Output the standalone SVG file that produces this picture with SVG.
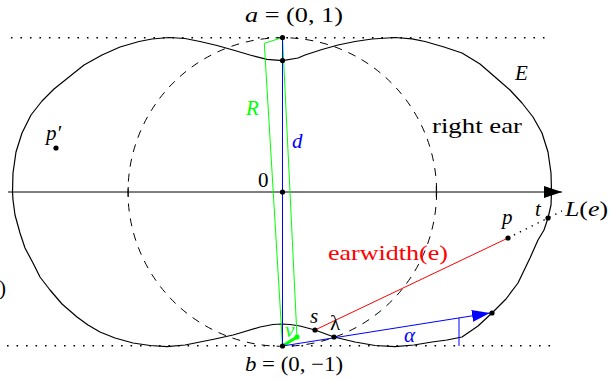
<svg xmlns="http://www.w3.org/2000/svg" width="615" height="381" viewBox="0 0 615 381">
<defs>
<style>
text{font-family:'Liberation Serif','Times New Roman',serif;font-size:21px;fill:#000}
.it{font-style:italic}
.dot{fill:#000}
.dotted{fill:none;stroke:#000;stroke-width:1.6;stroke-dasharray:1.6 7.9}
.curve{fill:none;stroke:#000;stroke-width:1.2;stroke-linejoin:round}
.dashed{fill:none;stroke:#000;stroke-width:1;stroke-dasharray:8 7}
</style>
<marker id="blackArrow" viewBox="0 0 18 12" refX="18" refY="6" markerWidth="18" markerHeight="12" orient="auto" markerUnits="userSpaceOnUse">
<path d="M0,0 L18,6 L0,12 Z" fill="#000"/>
</marker>
<marker id="blueArrow" viewBox="0 0 18 12" refX="18" refY="6" markerWidth="18" markerHeight="12" orient="auto" markerUnits="userSpaceOnUse">
<path d="M0,0 L18,6 L0,12 Z" fill="#0000ff"/>
</marker>
</defs>
<rect width="615" height="381" fill="#fff"/>

<g id="guides">
<line class="dotted" x1="10.9" y1="37.7" x2="551" y2="37.7"/>
<line class="dotted" x1="7" y1="345.8" x2="551" y2="345.8"/>
<circle class="dashed" cx="282.3" cy="192" r="154.3"/>
</g>

<g id="shape-E">
<path class="curve" d="M12.5,192 L13,173 L16,152 L22,133 L31,115 L42,101 L54,89 L69,77 L84,65 L102,55 L120,47 L139,41.5 L152,39 L169,37.5 L185,38.5 L200,41.5 L217,45.5 L233,50 L250,55 L267,59.3 L282.5,60.7 L298,58 L305,55 L322,49.5 L338,45 L355,41.5 L372,39 L395,37.5 L412,38.8 L425,41.5 L444,47 L462,53 L480,64 L495,77 L510,90 L522,103 L533,117 L542,133 L548,152 L551,173 L551.5,192 L551,205 L548,218 L544,230 L538,240 L530,258 L518,283 L506,299 L492,313 L478,326 L462,337 L447,340 L432,342 L414,345 L395,346.7 L375,345.5 L355,342 L334,337 L315,330 L300,326 L290,324.5 L282,324 L273,324.5 L260,327 L240,333 L233,335 L215,339 L200,342 L185,345 L167,346.7 L150,345.5 L133,343 L115,338 L100,332 L88,325 L77,317 L62,304 L50,290 L40,277 L33,263 L25,248 L20,233 L15,215 L13,200 Z"/>
<text class="it" x="515" y="80" font-family="Liberation Serif, serif">E</text>
<text x="432" y="133" font-family="Liberation Serif, serif" textLength="90" lengthAdjust="spacingAndGlyphs">right ear</text>
</g>

<g id="connectors">
<line x1="8" y1="192" x2="562" y2="192" stroke="#000" stroke-width="1" marker-end="url(#blackArrow)"/>
<line x1="128.2" y1="187" x2="128.2" y2="197" stroke="#000" stroke-width="1"/>
<line x1="436.3" y1="186" x2="436.3" y2="197" stroke="#000" stroke-width="1"/>
<polygon points="264.3,43.3 282.5,37.5 297,337 282.5,346" fill="none" stroke="#00ff00" stroke-width="1"/>
<line x1="282.5" y1="37.5" x2="282.5" y2="346" stroke="#0000ff" stroke-width="1"/>
<line x1="282.5" y1="346" x2="297" y2="337" stroke="#00ff00" stroke-width="3" stroke-linecap="round"/>
<line x1="282.5" y1="346" x2="490" y2="313" stroke="#0000ff" stroke-width="1" marker-end="url(#blueArrow)"/>
<line x1="459" y1="318" x2="459" y2="346" stroke="#0000ff" stroke-width="1"/>
<line x1="315" y1="330" x2="508" y2="238" stroke="#ff0000" stroke-width="1"/>
<line x1="508" y1="238" x2="562" y2="211" stroke="#000" stroke-width="1.4" stroke-dasharray="1.4 5.2"/>
</g>

<g id="labels" font-family="Liberation Serif, serif">
<text class="it" x="246" y="115" style="fill:#00ff00">R</text>
<text class="it" x="292" y="148" style="fill:#0000ff">d</text>
<text x="328" y="260" textLength="120" lengthAdjust="spacingAndGlyphs" style="fill:#ff0000">earwidth(e)</text>
<text class="it" x="285" y="337" style="fill:#00ff00">v</text>
<text class="it" x="404" y="342" style="fill:#0000ff">α</text>
<text x="-1" y="295">)</text>
</g>

<g id="node-a" font-family="Liberation Serif, serif">
<circle class="dot" cx="282.5" cy="37.5" r="2.6"/>
<text x="245" y="22" textLength="98" lengthAdjust="spacingAndGlyphs"><tspan class="it">a</tspan> = (0, 1)</text>
</g>
<g id="node-a2">
<circle class="dot" cx="282.5" cy="60.5" r="2.6"/>
</g>
<g id="node-origin" font-family="Liberation Serif, serif">
<circle class="dot" cx="282.5" cy="192" r="2.6"/>
<text x="258" y="187">0</text>
</g>
<g id="node-b" font-family="Liberation Serif, serif">
<circle class="dot" cx="282.5" cy="346" r="2.6"/>
<text x="245" y="371" textLength="98" lengthAdjust="spacingAndGlyphs"><tspan class="it">b</tspan> = (0, −1)</text>
</g>
<g id="node-v">
<circle cx="297" cy="337" r="2.6" fill="#00ff00"/>
</g>
<g id="node-pprime" font-family="Liberation Serif, serif">
<circle class="dot" cx="56" cy="148" r="2.6"/>
<text class="it" x="46" y="140">p′</text>
</g>
<g id="node-p" font-family="Liberation Serif, serif">
<circle class="dot" cx="508" cy="238" r="2.6"/>
<text class="it" x="502" y="224">p</text>
</g>
<g id="node-t" font-family="Liberation Serif, serif">
<circle class="dot" cx="548" cy="218" r="2.6"/>
<text class="it" x="535" y="216">t</text>
<text x="565" y="216" textLength="43" lengthAdjust="spacingAndGlyphs"><tspan class="it">L</tspan>(<tspan class="it">e</tspan>)</text>
</g>
<g id="node-s" font-family="Liberation Serif, serif">
<circle class="dot" cx="315" cy="330" r="2.6"/>
<text class="it" x="310" y="323">s</text>
</g>
<g id="node-lambda" font-family="Liberation Serif, serif">
<circle class="dot" cx="334" cy="337" r="2.6"/>
<text x="330" y="330">λ</text>
</g>
<g id="node-arrowend">
<circle class="dot" cx="492" cy="313" r="2.6"/>
</g>
</svg>
